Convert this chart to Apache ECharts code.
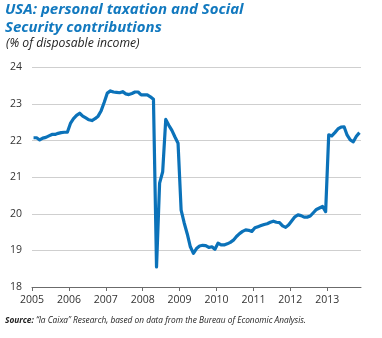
<!DOCTYPE html>
<html><head><meta charset="utf-8">
<script src="https://cdn.jsdelivr.net/npm/echarts@6/dist/echarts.min.js"></script>
<style>html,body{margin:0;padding:0;background:#fff}#c{width:382px;height:338px}</style>
</head><body><div id="c"></div>
<script>
// Monthly data, Jan 2005 – Nov 2013 (% of disposable income)
var startYear = 2005;
var taxShare = [
  22.08, 22.08, 22.02, 22.07, 22.09, 22.13, 22.17, 22.17, 22.20, 22.22, 22.23, 22.23,
  22.47, 22.60, 22.69, 22.75, 22.67, 22.62, 22.57, 22.55, 22.60, 22.67, 22.82, 23.05,
  23.30, 23.36, 23.33, 23.32, 23.31, 23.34, 23.28, 23.26, 23.29, 23.33, 23.33, 23.25,
  23.25, 23.25, 23.20, 23.13, 18.55, 20.84, 21.15, 22.58, 22.42, 22.28, 22.10, 21.93,
  20.10, 19.75, 19.45, 19.10, 18.92, 19.05, 19.12, 19.14, 19.13, 19.08, 19.10, 19.03,
  19.20, 19.15, 19.15, 19.18, 19.22, 19.28, 19.38, 19.46, 19.52, 19.56, 19.55, 19.52,
  19.62, 19.65, 19.68, 19.71, 19.73, 19.77, 19.80, 19.77, 19.76, 19.67, 19.63, 19.70,
  19.81, 19.92, 19.97, 19.95, 19.91, 19.91, 19.94, 20.03, 20.12, 20.16, 20.20, 20.06,
  22.16, 22.13, 22.22, 22.32, 22.37, 22.38, 22.15, 22.02, 21.97, 22.12, 22.22
];
var yearLabels = ['2005','2006','2007','2008','2009','2010','2011','2012','2013'];
var yTicks = [18, 19, 20, 21, 22, 23, 24];

var titleText = 'USA: personal taxation and Social\nSecurity contributions';
var subtitleText = '(% of disposable income)';
var sourceBold = 'Source:';
var sourceText = ' \u201cla Caixa\u201d Research, based on data from the Bureau of Economic Analysis.';

var points = taxShare.map(function (v, i) { return [startYear + (i + 0.5) / 12, v]; });
var xMax = startYear + taxShare.length / 12;

var chart = echarts.init(document.getElementById('c'), null, {renderer: 'canvas'});
var FONT = '"Liberation Sans Narrow", "Open Sans", sans-serif';
chart.setOption({
  animation: false,
  backgroundColor: '#fff',
  grid: {left: 32, right: 21, top: 67.5, bottom: 51, containLabel: false},
  xAxis: {
    type: 'value', min: startYear, max: xMax, interval: 1,
    axisLine: {show: true, lineStyle: {color: '#6b6b6b', width: 1}},
    axisTick: {show: true, length: 4, lineStyle: {color: '#6b6b6b'}},
    splitLine: {show: false},
    axisLabel: {
      color: '#333', fontSize: 10.5, fontFamily: '"Open Sans", sans-serif', margin: 8,
      showMaxLabel: false,
      formatter: function (v) { var idx = yearLabels.indexOf(String(Math.round(v))); return (Math.abs(v - Math.round(v)) < 1e-6 && idx >= 0) ? yearLabels[idx] : ''; }
    }
  },
  yAxis: {
    type: 'value', min: yTicks[0], max: yTicks[yTicks.length - 1], interval: 1,
    axisLine: {show: false}, axisTick: {show: false},
    splitLine: {show: true, lineStyle: {color: '#cfcfcf', width: 1}},
    axisLabel: {color: '#333', fontSize: 10.5, fontFamily: '"Open Sans", sans-serif', margin: 10}
  },
  series: [{
    type: 'line', data: points, showSymbol: false, symbol: 'none',
    lineStyle: {color: '#0b72b9', width: 3.2, join: 'round'},
    z: 3
  }],
  graphic: [
    {type: 'text', left: 5, top: 1, style: {text: titleText, font: 'italic bold 15px ' + FONT, fill: '#1279bf', lineHeight: 18}},
    {type: 'text', left: 6, top: 38, style: {text: subtitleText, font: 'italic 12.2px "Open Sans", sans-serif', fill: '#222'}},
    {type: 'text', left: 5, top: 317, style: {
      text: '{b|' + sourceBold + '}{n|' + sourceText + '}',
      rich: {b: {font: 'italic bold 8.3px ' + FONT, fill: '#222'}, n: {font: 'italic 8.3px ' + FONT, fill: '#222'}}
    }}
  ]
});
</script></body></html>
